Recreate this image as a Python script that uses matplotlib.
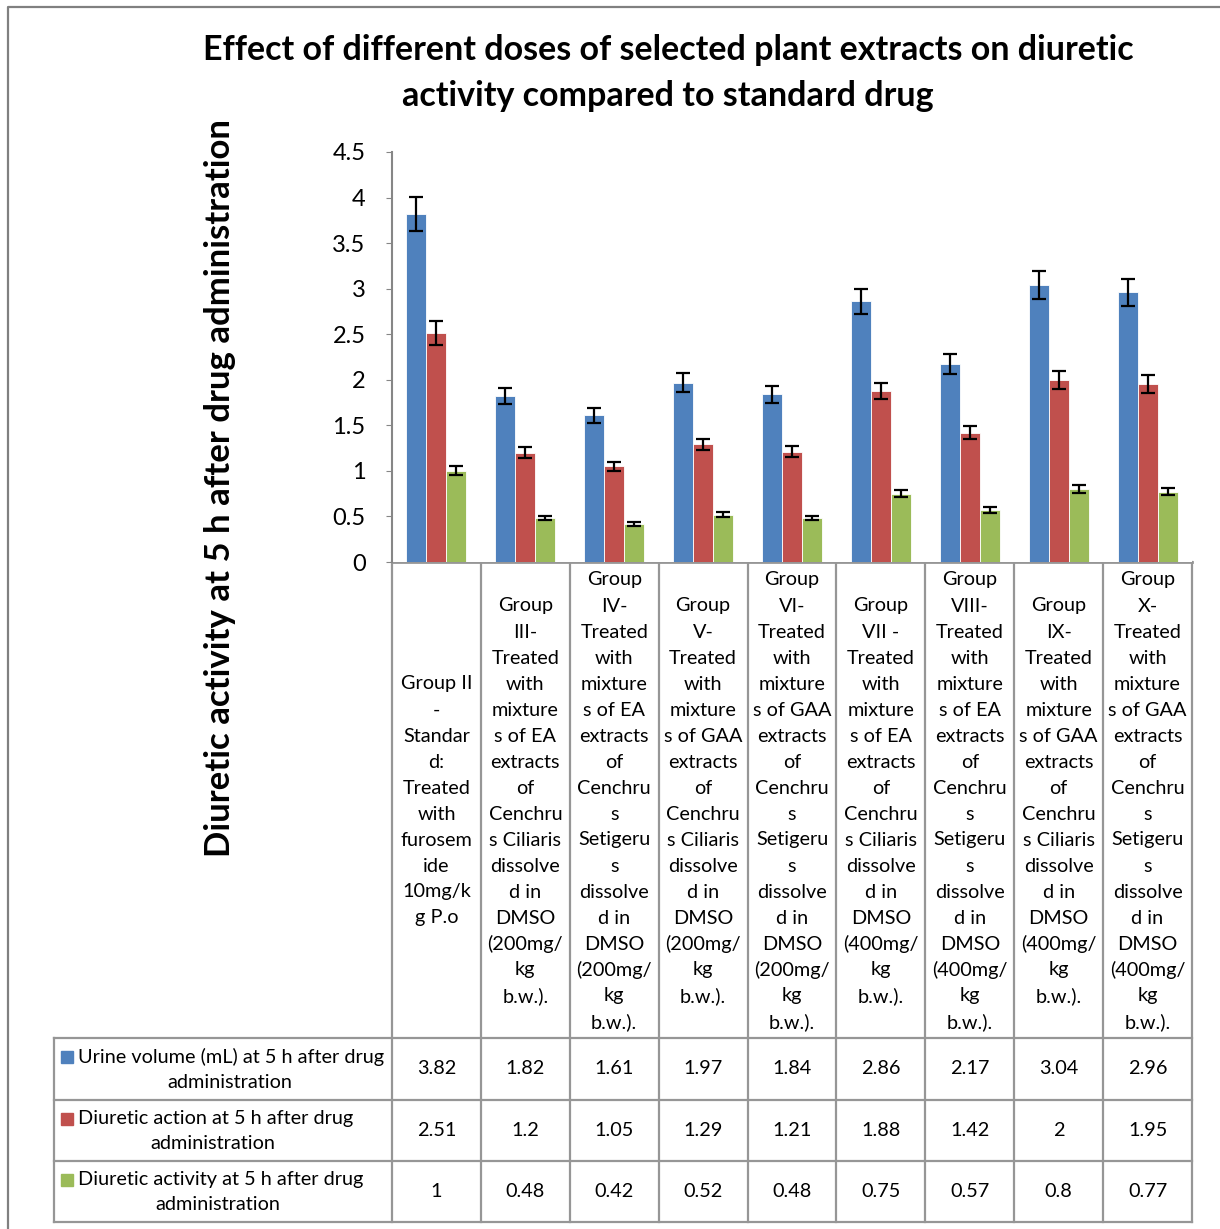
import numpy as np
import matplotlib
matplotlib.use("Agg")
import matplotlib.pyplot as plt
from matplotlib.patches import Rectangle

plt.rcParams['font.family'] = ['Lato', 'DejaVu Sans']

# data
groups = [
    "Group II\n-\nStandar\nd:\nTreated\nwith\nfurosem\nide\n10mg/k\ng P.o",
    "Group\nIII-\nTreated\nwith\nmixture\ns of EA\nextracts\nof\nCenchru\ns Ciliaris\ndissolve\nd in\nDMSO\n(200mg/\nkg\nb.w.).",
    "Group\nIV-\nTreated\nwith\nmixture\ns of EA\nextracts\nof\nCenchru\ns\nSetigeru\ns\ndissolve\nd in\nDMSO\n(200mg/\nkg\nb.w.).",
    "Group\nV-\nTreated\nwith\nmixture\ns of GAA\nextracts\nof\nCenchru\ns Ciliaris\ndissolve\nd in\nDMSO\n(200mg/\nkg\nb.w.).",
    "Group\nVI-\nTreated\nwith\nmixture\ns of GAA\nextracts\nof\nCenchru\ns\nSetigeru\ns\ndissolve\nd in\nDMSO\n(200mg/\nkg\nb.w.).",
    "Group\nVII -\nTreated\nwith\nmixture\ns of EA\nextracts\nof\nCenchru\ns Ciliaris\ndissolve\nd in\nDMSO\n(400mg/\nkg\nb.w.).",
    "Group\nVIII-\nTreated\nwith\nmixture\ns of EA\nextracts\nof\nCenchru\ns\nSetigeru\ns\ndissolve\nd in\nDMSO\n(400mg/\nkg\nb.w.).",
    "Group\nIX-\nTreated\nwith\nmixture\ns of GAA\nextracts\nof\nCenchru\ns Ciliaris\ndissolve\nd in\nDMSO\n(400mg/\nkg\nb.w.).",
    "Group\nX-\nTreated\nwith\nmixture\ns of GAA\nextracts\nof\nCenchru\ns\nSetigeru\ns\ndissolve\nd in\nDMSO\n(400mg/\nkg\nb.w.).",
]
series_names = [
    ["Urine volume (mL) at 5 h after drug", "administration"],
    ["Diuretic action at 5 h after drug", "administration"],
    ["Diuretic activity at 5 h after drug", "administration"],
]
urine = [3.82, 1.82, 1.61, 1.97, 1.84, 2.86, 2.17, 3.04, 2.96]
action = [2.51, 1.2, 1.05, 1.29, 1.21, 1.88, 1.42, 2, 1.95]
activity = [1, 0.48, 0.42, 0.52, 0.48, 0.75, 0.57, 0.8, 0.77]
urine_err = [0.19, 0.09, 0.08, 0.10, 0.09, 0.14, 0.11, 0.15, 0.15]
action_err = [0.13, 0.06, 0.05, 0.06, 0.06, 0.09, 0.07, 0.10, 0.10]
activity_err = [0.05, 0.02, 0.02, 0.03, 0.02, 0.04, 0.03, 0.04, 0.04]
value_text = [
    ["3.82", "1.82", "1.61", "1.97", "1.84", "2.86", "2.17", "3.04", "2.96"],
    ["2.51", "1.2", "1.05", "1.29", "1.21", "1.88", "1.42", "2", "1.95"],
    ["1", "0.48", "0.42", "0.52", "0.48", "0.75", "0.57", "0.8", "0.77"],
]
colors = ["#4F81BD", "#C0504D", "#9BBB59"]

W, H = 1220, 1229
fig = plt.figure(figsize=(W / 100, H / 100), dpi=100)

# overlay in pixel coords for table, title, borders
ov = fig.add_axes([0, 0, 1, 1])
ov.set_xlim(0, W)
ov.set_ylim(H, 0)
ov.axis("off")

# chart area (pixels): x 392..1192, y 152..562
x0, x1, ytop, ybot = 392, 1192, 152, 562
ax = fig.add_axes([x0 / W, 1 - ybot / H, (x1 - x0) / W, (ybot - ytop) / H])
n = len(urine)
idx = np.arange(n)
bw = 0.225
series = [urine, action, activity]
errs = [urine_err, action_err, activity_err]
for k in range(3):
    ax.bar(idx + (k - 1) * bw, series[k], bw, color=colors[k], edgecolor="white",
           linewidth=0.6, yerr=errs[k], capsize=5,
           error_kw=dict(ecolor="black", elinewidth=1.6, capthick=1.6), zorder=2)
ax.set_xlim(-0.5, n - 0.5)
ax.set_ylim(0, 4.5)
ax.set_yticks([0, 0.5, 1, 1.5, 2, 2.5, 3, 3.5, 4, 4.5])
ax.set_yticklabels(["0", "0.5", "1", "1.5", "2", "2.5", "3", "3.5", "4", "4.5"])
ax.tick_params(axis="y", labelsize=17, length=4, color="#868686", pad=15)
ax.set_xticks([])
for s in ["top", "right", "bottom"]:
    ax.spines[s].set_visible(False)
ax.spines["left"].set_color("#868686")
ax.spines["left"].set_linewidth(1.5)

# title and y label
ov.text(668, 50, "Effect of different doses of selected plant extracts on diuretic",
        ha="center", va="center", fontsize=24.5, fontweight="bold")
ov.text(668, 96, "activity compared to standard drug",
        ha="center", va="center", fontsize=24.5, fontweight="bold")
ov.text(220, 488, "Diuretic activity at 5 h after drug administration", rotation=90,
        ha="center", va="center", fontsize=25, fontweight="bold")

# outer chart border (only top and left fall inside the image)
ov.plot([8, 8, W + 5], [H + 5, 7, 7], color="#808080", lw=1.6)

# table grid
gc = "#969696"
colw = (x1 - x0) / n
rows = [1038, 1100, 1161, 1222]
ov.plot([x0, x1], [ybot, ybot], color=gc, lw=2)
for i in range(n + 1):
    xx = x0 + i * colw
    ov.plot([xx, xx], [ybot, rows[-1]], color=gc, lw=1.6)
ov.plot([54, 54], [rows[0], rows[-1]], color=gc, lw=1.6)
for r in rows:
    ov.plot([54, x1], [r, r], color=gc, lw=1.6)

# category labels
fs = 14.3
for i, lab in enumerate(groups):
    lines = lab.split("\n")
    cx = x0 + (i + 0.5) * colw
    ystart = 801 - (len(lines) - 1) * 26 / 2
    for j, ln in enumerate(lines):
        ov.text(cx, ystart + j * 26, ln, ha="center", va="center", fontsize=fs)

# row headers with legend keys
line2_x = [230, 213, 218]
for k in range(3):
    ymid = (rows[k] + rows[k + 1]) / 2
    ov.add_patch(Rectangle((61, ymid - 18), 12, 12, color=colors[k]))
    ov.text(78, ymid - 12, series_names[k][0], ha="left", va="center", fontsize=fs)
    ov.text(line2_x[k], ymid + 13, series_names[k][1], ha="center", va="center", fontsize=fs)
    for i in range(n):
        cx = x0 + (i + 0.5) * colw
        ov.text(cx, ymid, value_text[k][i], ha="center", va="center", fontsize=fs)

fig.savefig("out.png", dpi=100)
